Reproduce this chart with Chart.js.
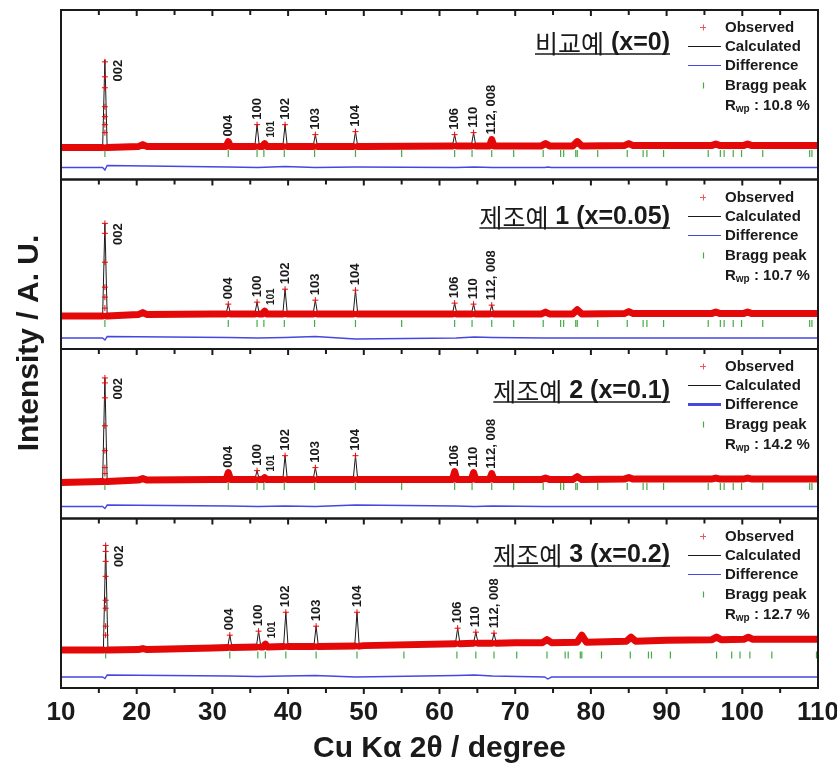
<!DOCTYPE html>
<html>
<head>
<meta charset="utf-8">
<title>Rietveld XRD</title>
<script src="https://cdn.jsdelivr.net/npm/chart.js@4.4.1/dist/chart.umd.min.js"></script>
<style>
  html, body { margin: 0; padding: 0; background: #fff; }
  canvas { display: block; }
</style>
</head>
<body>
<canvas id="xrdChart" width="837" height="767"></canvas>
<script>
// values; y is in arbitrary units, 0..170 per panel

const panelTitles = ["비교예 (x=0)", "제조예 1 (x=0.05)", "제조예 2 (x=0.1)", "제조예 3 (x=0.2)"];
const rwpValues = ["10.8", "10.7", "14.2", "12.7"];
const hklLabels = ["002", "004", "100", "101", "102", "103", "104", "106", "110", "112, 008"];

// main (labelled) reflections + small unlabelled bumps
const mainX = [15.8, 32.1, 35.9, 36.9, 39.6, 43.6, 48.9, 62.0, 64.5, 66.9];
const minorX = [20.8, 74.0, 78.2, 85.0, 96.5, 100.7];
const mainX4 = [15.9, 32.3, 36.1, 37.0, 39.7, 43.7, 49.1, 62.4, 64.8, 67.2];
const minorX4 = [20.8, 74.2, 78.8, 85.3, 96.6, 100.8];

// peak tops (main then minor)
const topA = [120, 38, 55, 36, 55, 45, 48, 45, 47, 40, 35, 36, 38, 36, 35.5, 35.5];
const topB = [126, 45, 47, 38, 60, 49, 59, 46, 45, 44, 36.5, 37, 39.5, 37.5, 37, 37];
const topC = [141, 46, 48, 41, 63, 51, 63, 47, 46, 45, 40, 40.5, 42, 41, 40.5, 40.5];
const topD = [143, 53, 57, 44, 76, 62, 76, 60, 56, 55, 39.5, 48.5, 53, 51, 51, 51];

// background level at the foot of each peak
const footA = [32, 33, 33, 33, 33, 33, 33, 33.5, 33.5, 33.5, 33, 33.5, 33.5, 34, 34, 34];
const footB = [33, 35, 35, 35, 35, 35, 35, 35, 35, 35, 34.5, 35, 35, 35.5, 35.5, 35.5];
const footC = [37, 39, 39, 39, 39, 39, 39, 39, 39, 39, 38.5, 39, 39, 39.5, 39.5, 39.5];
const footD = [38, 40.5, 41, 41, 41.5, 41.5, 42, 44.5, 45, 45, 38.5, 45.5, 46, 47, 48.5, 48.8];

// background knots
const baseX = [10, 30, 50, 70, 90, 110];
const baseA = [32, 33, 33, 33.5, 34, 34];
const baseB = [33, 35, 35, 35, 35.5, 35.5];
const baseC = [36, 39, 39, 39, 39.5, 39.5];
const baseD = [38, 40, 42.5, 45.5, 48, 49];

// observed points visible along the 002 spike
const spikeA = [118, 103, 92, 73, 63, 55, 47];
const spikeB = [126, 116, 87, 62, 52, 41];
const spikeC = [141, 136, 121, 93, 68, 51, 45];
const spikeD = [143, 137, 127, 112, 88, 80, 62, 53];

// difference curve
const diffX = [10, 15.5, 15.8, 16.1, 32.1, 36.0, 39.6, 43.6, 48.9, 62.2, 64.6, 67.0, 73.9, 74.3, 74.8, 110];
const diffA = [12, 12, 9.5, 14, 12.5, 12, 13, 12, 12.5, 12, 12.5, 12, 12, 12.5, 12, 12];
const diffB = [11, 11, 9, 12.5, 11.5, 11, 11.5, 12.5, 10, 11, 12, 11.5, 11, 11, 11, 11];
const diffC = [12, 12, 10, 13.5, 12.5, 12, 12.5, 12, 13.5, 12.5, 12, 12.5, 12, 12, 12, 12];
const diffD = [11, 11, 9.5, 13, 12, 11.5, 12, 12.5, 11, 12.5, 13, 12, 11, 9, 11, 11];

// Bragg reflection positions
const braggX = [15.8, 32.1, 35.9, 36.8, 39.5, 43.5, 48.9, 55.0, 62.0, 64.3, 66.9, 69.8, 73.7, 76.0, 76.4, 78.0, 78.2,
  80.9, 84.8, 86.9, 87.4, 89.6, 95.5, 97.1, 97.6, 98.8, 99.9, 102.7, 108.9, 109.2];
const braggX4 = [15.9, 32.3, 36.0, 37.0, 39.7, 43.7, 49.1, 55.3, 62.3, 64.8, 67.2, 70.2, 74.2, 76.6, 77.0, 78.6, 78.8,
  81.4, 85.2, 87.6, 88.0, 90.5, 96.6, 98.6, 99.7, 101.0, 103.9, 109.8];
const braggLevel = [26, 25.5, 32, 33];

const xTicks = [10, 20, 30, 40, 50, 60, 70, 80, 90, 100, 110];

// ---- styling / layout ----
const RED = "rgb(228, 8, 8)";
const BLUE = "rgb(70, 70, 225)";
const GREEN = "rgb(70, 170, 70)";
const INK = "#1a1a1a";
const LATIN = '"Liberation Sans", Arial, sans-serif';
const KOREAN = '"Noto Sans CJK KR", sans-serif';
const titleDy = [33, 37, 42, 36];

const panels = [
  { id: "yA", px: mainX.concat(minorX), top: topA, foot: footA, base: baseA, spike: spikeA, diff: diffA, bragg: braggX },
  { id: "yB", px: mainX.concat(minorX), top: topB, foot: footB, base: baseB, spike: spikeB, diff: diffB, bragg: braggX },
  { id: "yC", px: mainX.concat(minorX), top: topC, foot: footC, base: baseC, spike: spikeC, diff: diffC, bragg: braggX },
  { id: "yD", px: mainX4.concat(minorX4), top: topD, foot: footD, base: baseD, spike: spikeD, diff: diffD, bragg: braggX4 },
];

const makeProfile = (p) => {
  const pts = baseX.map((x, i) => ({ x, y: p.base[i] }));
  p.px.forEach((x, i) => {
    const hw = i < mainX.length ? 0.3 : 0.6;
    pts.push({ x: x - hw, y: p.foot[i] }, { x, y: p.top[i] }, { x: x + hw, y: p.foot[i] });
  });
  return pts.sort((a, b) => a.x - b.x);
};

const datasets = [];
panels.forEach((p, k) => {
  const prof = makeProfile(p);
  const marks = p.spike.map(y => ({ x: p.px[0], y }));
  for (let i = 1; i < mainX.length; i++) marks.push({ x: p.px[i], y: p.top[i] });

  datasets.push({
    label: "Observed marks", yAxisID: p.id, order: 0, data: marks, showLine: false,
    pointStyle: "cross", pointRadius: 3, borderColor: RED, borderWidth: 1,
  });
  datasets.push({
    label: "Observed", yAxisID: p.id, order: 1, data: prof, pointRadius: 0,
    borderColor: RED, borderWidth: 7, borderCapStyle: "round", borderJoinStyle: "round",
    segment: {
      // the tall flanks show the calculated line with sparse markers instead of the dense band
      borderColor: c => Math.abs(c.p1.parsed.y - c.p0.parsed.y) > 8 ? "rgba(0,0,0,0)" : undefined,
    },
  });
  datasets.push({
    label: "Calculated", yAxisID: p.id, order: 2, data: prof, pointRadius: 0,
    borderColor: INK, borderWidth: 1,
  });
  datasets.push({
    label: "Difference", yAxisID: p.id, order: 3, data: diffX.map((x, i) => ({ x, y: p.diff[i] })),
    pointRadius: 0, borderColor: BLUE, borderWidth: 1.4,
  });
  datasets.push({
    label: "Bragg peak", yAxisID: p.id, order: 3, data: p.bragg.map(x => ({ x, y: braggLevel[k] })),
    showLine: false, pointStyle: "line", rotation: 90, pointRadius: 3.5, borderColor: GREEN, borderWidth: 1.2,
  });
});

const yAxis = () => ({
  type: "linear", position: "left", stack: "panels", stackWeight: 1, min: 0, max: 170,
  grid: { display: false, drawTicks: false }, border: { display: false },
  ticks: { display: false },
  afterFit: s => { s.width = 0; },
});

const decorations = {
  id: "decorations",
  afterDraw(chart) {
    const { ctx, chartArea, scales } = chart;
    const xs = scales.x;
    const L = chartArea.left, R = chartArea.right;
    ctx.save();

    panels.forEach((p, k) => {
      const ys = scales[p.id];
      const T = ys.top, B = ys.bottom;

      // frame and inward ticks at the top edge
      ctx.strokeStyle = INK;
      ctx.lineWidth = 2;
      ctx.strokeRect(L, T, R - L, B - T);
      for (let v = 15; v < 110; v += 5) {
        const x = xs.getPixelForValue(v);
        ctx.beginPath();
        ctx.moveTo(x, T);
        ctx.lineTo(x, T + (v % 10 === 0 ? 6 : 5));
        ctx.stroke();
      }

      // hkl labels
      ctx.fillStyle = INK;
      ctx.textBaseline = "middle";
      hklLabels.forEach((lab, i) => {
        const x = xs.getPixelForValue(p.px[i]);
        const y = ys.getPixelForValue(p.top[i]);
        ctx.save();
        if (i === 0) {
          ctx.translate(x + 14, y);
          ctx.rotate(-Math.PI / 2);
          ctx.textAlign = "right";
          ctx.font = `bold 13px ${LATIN}`;
        } else if (lab === "101") {
          ctx.translate(x + 7, y - 6);
          ctx.rotate(-Math.PI / 2);
          ctx.textAlign = "left";
          ctx.font = `bold 10px ${LATIN}`;
        } else {
          ctx.translate(x, y - 5);
          ctx.rotate(-Math.PI / 2);
          ctx.textAlign = "left";
          ctx.font = `bold 13px ${LATIN}`;
        }
        ctx.fillText(lab, 0, 0);
        ctx.restore();
      });

      // panel title, underlined, right aligned
      const m = panelTitles[k].match(/^([\uAC00-\uD7A3]+)(.*)$/);
      const ty = Math.round(T + titleDy[k]);
      ctx.textAlign = "left";
      ctx.font = `bold 25px ${LATIN}`;
      const wRest = ctx.measureText(m[2]).width;
      ctx.font = `25px ${KOREAN}`;
      const wKor = ctx.measureText(m[1]).width;
      const tx = 670 - wRest - wKor;
      ctx.fillText(m[1], tx, ty);
      ctx.font = `bold 25px ${LATIN}`;
      ctx.fillText(m[2], tx + wKor, ty);
      ctx.lineWidth = 1.5;
      ctx.beginPath();
      ctx.moveTo(tx, ty + 11);
      ctx.lineTo(670, ty + 11);
      ctx.stroke();

      // legend
      const lx = 725;
      const rows = [17, 36, 55, 75, 95].map(d => Math.round(T + d) + 0.5);
      ctx.font = `bold 15px ${LATIN}`;
      ctx.fillText("Observed", lx, rows[0]);
      ctx.fillText("Calculated", lx, rows[1]);
      ctx.fillText("Difference", lx, rows[2]);
      ctx.fillText("Bragg peak", lx, rows[3]);
      ctx.fillText("R", lx, rows[4]);
      let w = ctx.measureText("R").width;
      ctx.font = `bold 10px ${LATIN}`;
      ctx.fillText("wp", lx + w, rows[4] + 4);
      w += ctx.measureText("wp").width;
      ctx.font = `bold 15px ${LATIN}`;
      ctx.fillText(" : " + rwpValues[k] + " %", lx + w, rows[4]);

      ctx.strokeStyle = "rgb(235, 90, 90)";
      ctx.lineWidth = 1;
      ctx.beginPath();
      ctx.moveTo(700, rows[0]); ctx.lineTo(706, rows[0]);
      ctx.moveTo(703.5, rows[0] - 3); ctx.lineTo(703.5, rows[0] + 3);
      ctx.stroke();
      ctx.strokeStyle = INK;
      ctx.beginPath();
      ctx.moveTo(688, rows[1]); ctx.lineTo(721, rows[1]);
      ctx.stroke();
      ctx.strokeStyle = BLUE;
      ctx.lineWidth = k === 2 ? 3 : 1;
      ctx.beginPath();
      ctx.moveTo(688, rows[2]); ctx.lineTo(721, rows[2]);
      ctx.stroke();
      ctx.strokeStyle = GREEN;
      ctx.lineWidth = 1.2;
      ctx.beginPath();
      ctx.moveTo(703.5, rows[3] - 3); ctx.lineTo(703.5, rows[3] + 3);
      ctx.stroke();
    });

    // outward ticks on the bottom axis
    const B = chartArea.bottom;
    ctx.strokeStyle = INK;
    ctx.lineWidth = 2;
    for (let v = 15; v < 110; v += 5) {
      const x = xs.getPixelForValue(v);
      ctx.beginPath();
      ctx.moveTo(x, B);
      ctx.lineTo(x, B + (v % 10 === 0 ? 6 : 5));
      ctx.stroke();
    }

    // y axis title
    ctx.fillStyle = INK;
    ctx.font = `bold 30px ${LATIN}`;
    ctx.textAlign = "center";
    ctx.textBaseline = "middle";
    ctx.translate(30, 343);
    ctx.rotate(-Math.PI / 2);
    ctx.fillText("Intensity / A. U.", 0, 0);
    ctx.restore();
  },
};

new Chart(document.getElementById("xrdChart"), {
  type: "line",
  data: { datasets },
  options: {
    responsive: false,
    animation: false,
    events: [],
    layout: { padding: { left: 61, right: 19, top: 10, bottom: 0 } },
    plugins: { legend: { display: false }, tooltip: { enabled: false } },
    scales: {
      x: {
        type: "linear", position: "bottom", min: 10, max: 110,
        afterBuildTicks: s => { s.ticks = xTicks.map(value => ({ value })); },
        grid: { display: false, drawTicks: false }, border: { display: false },
        ticks: { color: INK, padding: 9, font: { family: LATIN, size: 26, weight: "bold" } },
        title: {
          display: true, text: "Cu Kα 2θ / degree", color: INK,
          font: { family: LATIN, size: 30, weight: "bold" }, padding: { top: 0, bottom: 0 },
        },
        afterFit: s => { s.height = 79; s.paddingLeft = 0; s.paddingRight = 0; },
      },
      yD: yAxis(),
      yC: yAxis(),
      yB: yAxis(),
      yA: yAxis(),
    },
  },
  plugins: [decorations],
});
</script>
</body>
</html>
